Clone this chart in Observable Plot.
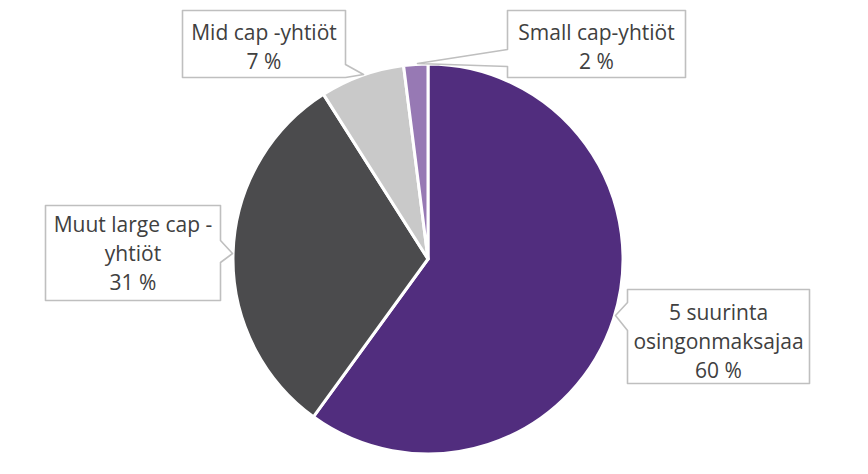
<!DOCTYPE html>
<html>
<head>
<meta charset="utf-8">
<script src="https://cdn.jsdelivr.net/npm/d3@7"></script>
<script src="https://cdn.jsdelivr.net/npm/@observablehq/plot@0.6"></script>
<style>
  html, body { margin: 0; padding: 0; background: #fff; }
  #chart svg { display: block; }
</style>
</head>
<body>
<div id="chart"></div>
<script>
// ---- data ----
const categories = ["5 suurinta osingonmaksajaa", "Muut large cap-yhtiöt", "Mid cap -yhtiöt", "Small cap-yhtiöt"];
const shares = [60, 31, 7, 2];
const labelLines = [
  "5 suurinta\nosingonmaksajaa\n60 %",
  "Muut large cap -\nyhtiöt\n31 %",
  "Mid cap -yhtiöt\n7 %",
  "Small cap-yhtiöt\n2 %"
];
const colors = ["#512d7e", "#4b4b4d", "#c9c9c9", "#9779b4"];

// ---- layout (pixel space; x/y scales are identity-like) ----
const W = 868, H = 474;
const pie = {cx: 428, cy: 259, r: 195};
const calloutShapes = [
  [[627,289],[809,289],[809,383],[627,383],[627,330],[615,315],[627,302],[627,289]],
  [[45,205],[220,205],[220,240],[232,253],[220,262],[220,300],[45,300],[45,205]],
  [[182,10],[345,10],[345,64],[363,74],[345,77],[182,77],[182,10]],
  [[507,10],[685,10],[685,77],[507,77],[507,66],[417,63],[507,49],[507,10]]
];
const labelPos = [[718, 339], [132.5, 251], [263.5, 45], [596, 45]];

const slices = categories.map((c, i) => ({category: c, share: shares[i], color: colors[i]}));
const arcs = d3.pie().sort(null).value(d => d.share)(slices);

const outlineRows = calloutShapes.flatMap((pts, i) => pts.map(([x, y]) => ({id: i, x, y})));
const labelRows = categories.map((c, i) => ({category: c, text: labelLines[i], x: labelPos[i][0], y: labelPos[i][1]}));

function pieMark(index, scales) {
  const sx = scales && scales.x ? scales.x : (v => v);
  const sy = scales && scales.y ? scales.y : (v => v);
  const cx = sx(pie.cx), cy = sy(pie.cy);
  const r = sx(pie.cx + pie.r) - cx;
  const arcGen = d3.arc().innerRadius(0).outerRadius(r);
  const g = d3.create("svg:g").attr("transform", `translate(${cx},${cy})`);
  g.selectAll("path").data(arcs).join("path")
    .attr("d", arcGen)
    .attr("fill", d => d.data.color)
    .attr("stroke", "#ffffff")
    .attr("stroke-width", 3)
    .attr("stroke-linejoin", "round");
  return g.node();
}

const chart = Plot.plot({
  width: W,
  height: H,
  margin: 0,
  x: {domain: [0, W], range: [0, W], axis: null},
  y: {domain: [0, H], range: [0, H], axis: null},
  style: {fontFamily: "'Open Sans', sans-serif", background: "#ffffff"},
  marks: [
    pieMark,
    Plot.line(outlineRows, {x: "x", y: "y", z: "id", fill: "#ffffff", stroke: "#bfbfbf", strokeWidth: 1.6, curve: "linear"}),
    Plot.text(labelRows, {x: "x", y: "y", text: "text", fill: "#404040", fontSize: 21, lineHeight: 1.38, textAnchor: "middle", lineAnchor: "middle"})
  ]
});
document.getElementById("chart").appendChild(chart);
</script>
</body>
</html>
